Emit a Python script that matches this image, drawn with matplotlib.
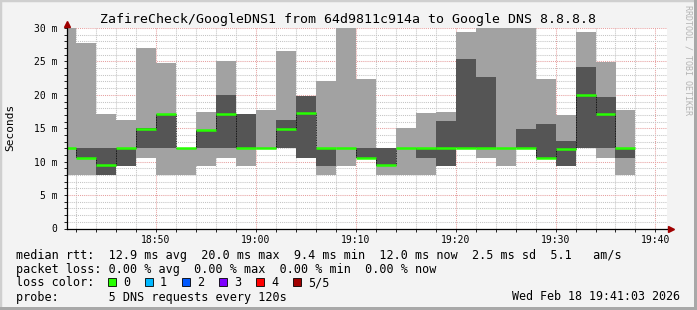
import numpy as np
import matplotlib
matplotlib.use("Agg")
import matplotlib.pyplot as plt
from matplotlib.patches import Rectangle

W, H = 697, 310
MONO = "DejaVu Sans Mono"

# column end times in minutes after 18:00, one column every 2 min
col_ends = list(range(42, 100, 2))
# 5 sorted pings per column, in ms (min, 2nd, median, 4th, max)
ping_min = [8.0, 8.0, 8.0, 9.4, 10.6, 8.0, 8.0, 9.4, 10.6, 9.4, 11.9, 12.0, 10.6, 8.0, 9.4,
            10.5, 8.0, 8.0, 8.0, 9.4, 12.0, 10.6, 9.4, 12.0, 10.5, 9.3, 12.0, 10.6, 8.0]
ping_p2 = [12.0, 10.5, 8.0, 9.4, 12.0, 12.0, 12.0, 12.0, 12.0, 12.0, 12.0, 12.0, 10.6, 9.4, 12.0,
           10.6, 9.4, 12.0, 10.6, 9.4, 12.0, 12.0, 12.0, 12.0, 10.6, 9.3, 12.0, 12.0, 10.6]
median = [12.0, 10.6, 9.5, 12.0, 14.9, 17.2, 12.0, 14.8, 17.2, 12.0, 12.0, 14.9, 17.3, 12.0, 12.0,
          10.6, 9.5, 12.0, 12.0, 12.0, 12.0, 12.0, 12.0, 12.0, 10.6, 11.85, 20.0, 17.2, 12.0]
ping_p4 = [12.0, 12.0, 12.0, 12.0, 15.0, 17.2, 12.0, 14.8, 20.0, 17.2, 12.0, 16.3, 19.9, 12.0, 12.0,
           12.0, 12.0, 12.0, 12.0, 16.1, 25.4, 22.6, 12.0, 14.95, 15.7, 13.15, 24.1, 19.75, 11.85]
ping_max = [31.0, 27.7, 17.2, 16.3, 27.0, 24.8, 12.0, 17.5, 25.1, 17.2, 17.8, 26.6, 19.9, 22.1, 31.0,
            22.3, 12.0, 15.0, 17.3, 17.5, 29.4, 31.0, 31.0, 31.0, 22.3, 17.05, 29.4, 24.85, 17.8]

xtick_pos = [50, 60, 70, 80, 90, 100]
xtick_labels = ["18:50", "19:00", "19:10", "19:20", "19:30", "19:40"]
ytick_pos = [0, 5, 10, 15, 20, 25, 30]
ytick_labels = ["0", "5 m", "10 m", "15 m", "20 m", "25 m", "30 m"]

title = "ZafireCheck/GoogleDNS1 from 64d9811c914a to Google DNS 8.8.8.8"
legend_lines = [
    "median rtt:  12.9 ms avg  20.0 ms max  9.4 ms min  12.0 ms now  2.5 ms sd  5.1   am/s",
    "packet loss: 0.00 % avg  0.00 % max  0.00 % min  0.00 % now",
    "loss color:",
    "probe:       5 DNS requests every 120s",
]
loss_labels = ["0", "1", "2", "3", "4", "5/5"]
loss_colors = ["#26ff00", "#00b8ff", "#0059ff", "#7e00ff", "#ff0000", "#a10000"]
stamp = "Wed Feb 18 19:41:03 2026"


def fx(px):
    return px / W


def fy(py):
    return 1 - py / H


fig = plt.figure(figsize=(W / 100, H / 100), dpi=100, facecolor="#f3f3f3")

# 3d-ish frame
fig.add_artist(Rectangle((0, 0), 1, 1, transform=fig.transFigure, fill=False,
                         edgecolor="#cfcfcf", lw=2.5))
fig.add_artist(Rectangle((fx(694), 0), fx(3), 1, transform=fig.transFigure,
                         color="#a8a8a8", lw=0))
fig.add_artist(Rectangle((0, 0), 1, 3 / H, transform=fig.transFigure,
                         color="#a8a8a8", lw=0))

ax = fig.add_axes([fx(67), fy(228.5), 600 / W, 200.5 / H])
ax.set_facecolor("white")
ax.set_xlim(41.15, 101.15)
ax.set_ylim(0, 30)

lefts = np.array(col_ends) - 2
lo = np.array(ping_min)
hi = np.array(ping_max)
ax.bar(lefts, hi - lo, bottom=lo, width=2, align="edge", color="#a2a2a2", lw=0, zorder=2)
ax.bar(lefts, np.array(ping_p4) - np.array(ping_p2), bottom=ping_p2, width=2,
       align="edge", color="#555555", lw=0, zorder=3)

# median step: black dotted verticals, green horizontals
for i in range(1, len(median)):
    if median[i] != median[i - 1]:
        ax.vlines(lefts[i], median[i - 1], median[i], colors="black", lw=0.6,
                  linestyles=(0, (1, 1)), zorder=4)
ax.hlines(median, lefts, np.array(col_ends), colors="#26ff00", lw=1.8, zorder=5)

# grid
ax.set_xticks(xtick_pos)
ax.set_xticklabels(xtick_labels, family=MONO, fontsize=7)
ax.set_xticks(np.arange(42, 101, 2), minor=True)
ax.set_yticks(ytick_pos)
ax.set_yticklabels(ytick_labels, family=MONO, fontsize=7)
ax.set_yticks(np.arange(0, 31, 1), minor=True)
ax.set_axisbelow(True)
ax.grid(which="minor", color="#c4c4c4", lw=0.75, linestyle=(0, (1, 1)))
ax.grid(which="major", color="#e6a0a0", lw=0.75, linestyle=(0, (1, 1)))
ax.tick_params(which="both", length=2, width=0.6, color="black")
ax.tick_params(axis="y", pad=5)
ax.tick_params(axis="x", pad=3)

for s in ax.spines.values():
    s.set_visible(False)
ax.plot([0, 0], [0, 1.02], transform=ax.transAxes, color="black", lw=0.9, clip_on=False, zorder=6)
ax.plot([0, 1.004], [0, 0], transform=ax.transAxes, color="black", lw=0.9, clip_on=False, zorder=6)
ax.plot([0], [1.02], marker="^", ms=4, color="#a00000", transform=ax.transAxes, clip_on=False, zorder=7)
ax.plot([1.006], [0], marker=">", ms=4, color="#a00000", transform=ax.transAxes, clip_on=False, zorder=7)

fig.text(0.5, fy(19), title, ha="center", va="center", family=MONO, fontsize=9.5)
fig.text(fx(10), fy(127), "Seconds", rotation=90, ha="center", va="center", family=MONO, fontsize=8)
fig.text(fx(688), fy(5), "RRDTOOL / TOBI OETIKER", rotation=270, ha="center", va="top",
         family=MONO, fontsize=6, color="#b4b4b4")

line_y = [255, 269, 283, 297]
for txt, yy in zip(legend_lines, line_y):
    fig.text(fx(16), fy(yy), txt, ha="left", va="center", family=MONO, fontsize=8.5)
fig.text(fx(680), fy(297), stamp, ha="right", va="center", family=MONO, fontsize=8.4)

for k, (lab, col) in enumerate(zip(loss_labels, loss_colors)):
    x0 = 108 + 37 * k
    fig.add_artist(Rectangle((fx(x0), fy(286)), 8 / W, 8 / H, transform=fig.transFigure,
                             facecolor=col, edgecolor="black", lw=0.6))
    fig.text(fx(x0 + 15), fy(283), lab, ha="left", va="center", family=MONO, fontsize=8.5)

fig.savefig("out.png", dpi=100, facecolor=fig.get_facecolor())
